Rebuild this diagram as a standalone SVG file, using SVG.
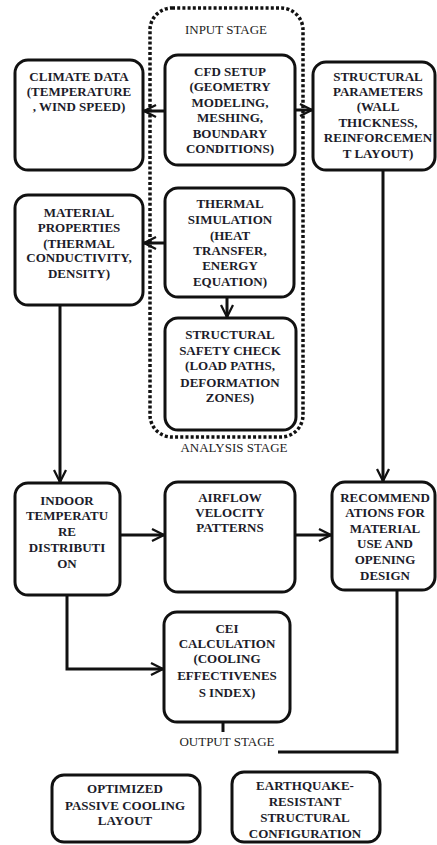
<svg xmlns="http://www.w3.org/2000/svg" width="437" height="845" viewBox="0 0 437 845">
<defs>
<marker id="arr" viewBox="0 0 10 10" refX="9" refY="5" markerWidth="5" markerHeight="5" orient="auto" markerUnits="strokeWidth">
<path d="M1,1 L9,5 L1,9" fill="none" stroke="#111" stroke-width="1.5" stroke-linejoin="miter"/>
</marker>
<style>
.box{fill:#fff;stroke:#111;stroke-width:3}
.t{font-family:'Liberation Serif',Tinos,'DejaVu Serif',serif;font-size:13px;font-weight:700;fill:#1c1c2a;text-anchor:middle}
.s{font-family:'Liberation Serif',Tinos,'DejaVu Serif',serif;font-size:13px;fill:#222;text-anchor:middle}
.c{fill:none;stroke:#111;stroke-width:3}
.dot{fill:none;stroke:#111;stroke-width:3.5;stroke-dasharray:3 2.2}
</style>
</defs>
<rect width="437" height="845" fill="#fff"/>
<g id="stage-frame">
<rect class="dot" x="150" y="8" width="153" height="429" rx="22"/>
<text class="s" x="226" y="34">INPUT STAGE</text>
<text class="s" x="234" y="452">ANALYSIS STAGE</text>
<text class="s" x="227" y="746">OUTPUT STAGE</text>
</g>
<g id="connectors">
<line class="c" x1="165" y1="111" x2="144" y2="111" marker-end="url(#arr)"/>
<line class="c" x1="295" y1="110" x2="312" y2="110" marker-end="url(#arr)"/>
<line class="c" x1="165" y1="243" x2="144" y2="243" marker-end="url(#arr)"/>
<line class="c" x1="227" y1="297" x2="227" y2="317" marker-end="url(#arr)"/>
<line class="c" x1="383" y1="170" x2="383" y2="481" marker-end="url(#arr)"/>
<line class="c" x1="60" y1="305" x2="60" y2="482" marker-end="url(#arr)"/>
<line class="c" x1="120" y1="535" x2="164" y2="535" marker-end="url(#arr)"/>
<line class="c" x1="295" y1="535" x2="331" y2="535" marker-end="url(#arr)"/>
<polyline class="c" points="67,595 67,669 163,669" marker-end="url(#arr)"/>
<line class="c" x1="223" y1="722" x2="223" y2="732"/>
<polyline class="c" points="397,590 397,752 278,752"/>
</g>
<g id="climate">
<rect class="box" x="15" y="60" width="128" height="110" rx="13"/>
<text class="t" x="79" y="80.5">CLIMATE DATA</text>
<text class="t" x="79" y="95.5">(TEMPERATURE</text>
<text class="t" x="79" y="111">, WIND SPEED)</text>
</g>
<g id="cfd">
<rect class="box" x="165" y="55" width="130" height="110" rx="13"/>
<text class="t" x="230" y="75.5">CFD SETUP</text>
<text class="t" x="230" y="91">(GEOMETRY</text>
<text class="t" x="230" y="106.5">MODELING,</text>
<text class="t" x="230" y="122">MESHING,</text>
<text class="t" x="230" y="137.5">BOUNDARY</text>
<text class="t" x="230" y="153">CONDITIONS)</text>
</g>
<g id="structural-params">
<rect class="box" x="313" y="62" width="122" height="108" rx="13"/>
<text class="t" x="378" y="80.5">STRUCTURAL</text>
<text class="t" x="378" y="95.5">PARAMETERS</text>
<text class="t" x="378" y="111">(WALL</text>
<text class="t" x="378" y="126.5">THICKNESS,</text>
<text class="t" x="378" y="142">REINFORCEMEN</text>
<text class="t" x="378" y="158">T LAYOUT)</text>
</g>
<g id="material">
<rect class="box" x="15" y="195" width="128" height="110" rx="13"/>
<text class="t" x="79" y="216.5">MATERIAL</text>
<text class="t" x="79" y="231.5">PROPERTIES</text>
<text class="t" x="79" y="247.5">(THERMAL</text>
<text class="t" x="79" y="261.5">CONDUCTIVITY,</text>
<text class="t" x="79" y="277.5">DENSITY)</text>
</g>
<g id="thermal">
<rect class="box" x="165" y="188" width="129" height="109" rx="13"/>
<text class="t" x="230" y="207.5">THERMAL</text>
<text class="t" x="230" y="223.5">SIMULATION</text>
<text class="t" x="230" y="239.5">(HEAT</text>
<text class="t" x="230" y="254.5">TRANSFER,</text>
<text class="t" x="230" y="269.5">ENERGY</text>
<text class="t" x="230" y="285.5">EQUATION)</text>
</g>
<g id="safety">
<rect class="box" x="165" y="318" width="131" height="112" rx="13"/>
<text class="t" x="230" y="338.5">STRUCTURAL</text>
<text class="t" x="230" y="354.5">SAFETY CHECK</text>
<text class="t" x="230" y="369.5">(LOAD PATHS,</text>
<text class="t" x="230" y="386.5">DEFORMATION</text>
<text class="t" x="230" y="401.5">ZONES)</text>
</g>
<g id="indoor">
<rect class="box" x="15" y="483" width="105" height="112" rx="13"/>
<text class="t" x="67" y="504.5">INDOOR</text>
<text class="t" x="67" y="519.5">TEMPERATU</text>
<text class="t" x="67" y="535.5">RE</text>
<text class="t" x="67" y="551.5">DISTRIBUTI</text>
<text class="t" x="67" y="567.5">ON</text>
</g>
<g id="airflow">
<rect class="box" x="165" y="482" width="130" height="110" rx="13"/>
<text class="t" x="230" y="501.5">AIRFLOW</text>
<text class="t" x="230" y="516.5">VELOCITY</text>
<text class="t" x="230" y="531.5">PATTERNS</text>
</g>
<g id="recommendations">
<rect class="box" x="332" y="482" width="103" height="108" rx="13"/>
<text class="t" x="385" y="501.5">RECOMMEND</text>
<text class="t" x="385" y="516.5">ATIONS FOR</text>
<text class="t" x="385" y="532.5">MATERIAL</text>
<text class="t" x="385" y="547.5">USE AND</text>
<text class="t" x="385" y="563.5">OPENING</text>
<text class="t" x="385" y="579.5">DESIGN</text>
</g>
<g id="cei">
<rect class="box" x="164" y="612" width="126" height="110" rx="13"/>
<text class="t" x="227" y="632.5">CEI</text>
<text class="t" x="227" y="647.5">CALCULATION</text>
<text class="t" x="227" y="662.5">(COOLING</text>
<text class="t" x="227" y="679.5">EFFECTIVENES</text>
<text class="t" x="227" y="696.5">S INDEX)</text>
</g>
<g id="optimized">
<rect class="box" x="52" y="775" width="148" height="67" rx="12"/>
<text class="t" x="125" y="792.5">OPTIMIZED</text>
<text class="t" x="125" y="809.5">PASSIVE COOLING</text>
<text class="t" x="125" y="824.5">LAYOUT</text>
</g>
<g id="earthquake">
<rect class="box" x="232" y="772" width="148" height="70" rx="12"/>
<text class="t" x="305" y="789.5">EARTHQUAKE-</text>
<text class="t" x="305" y="805.5">RESISTANT</text>
<text class="t" x="305" y="821.5">STRUCTURAL</text>
<text class="t" x="305" y="837.5">CONFIGURATION</text>
</g>
</svg>
